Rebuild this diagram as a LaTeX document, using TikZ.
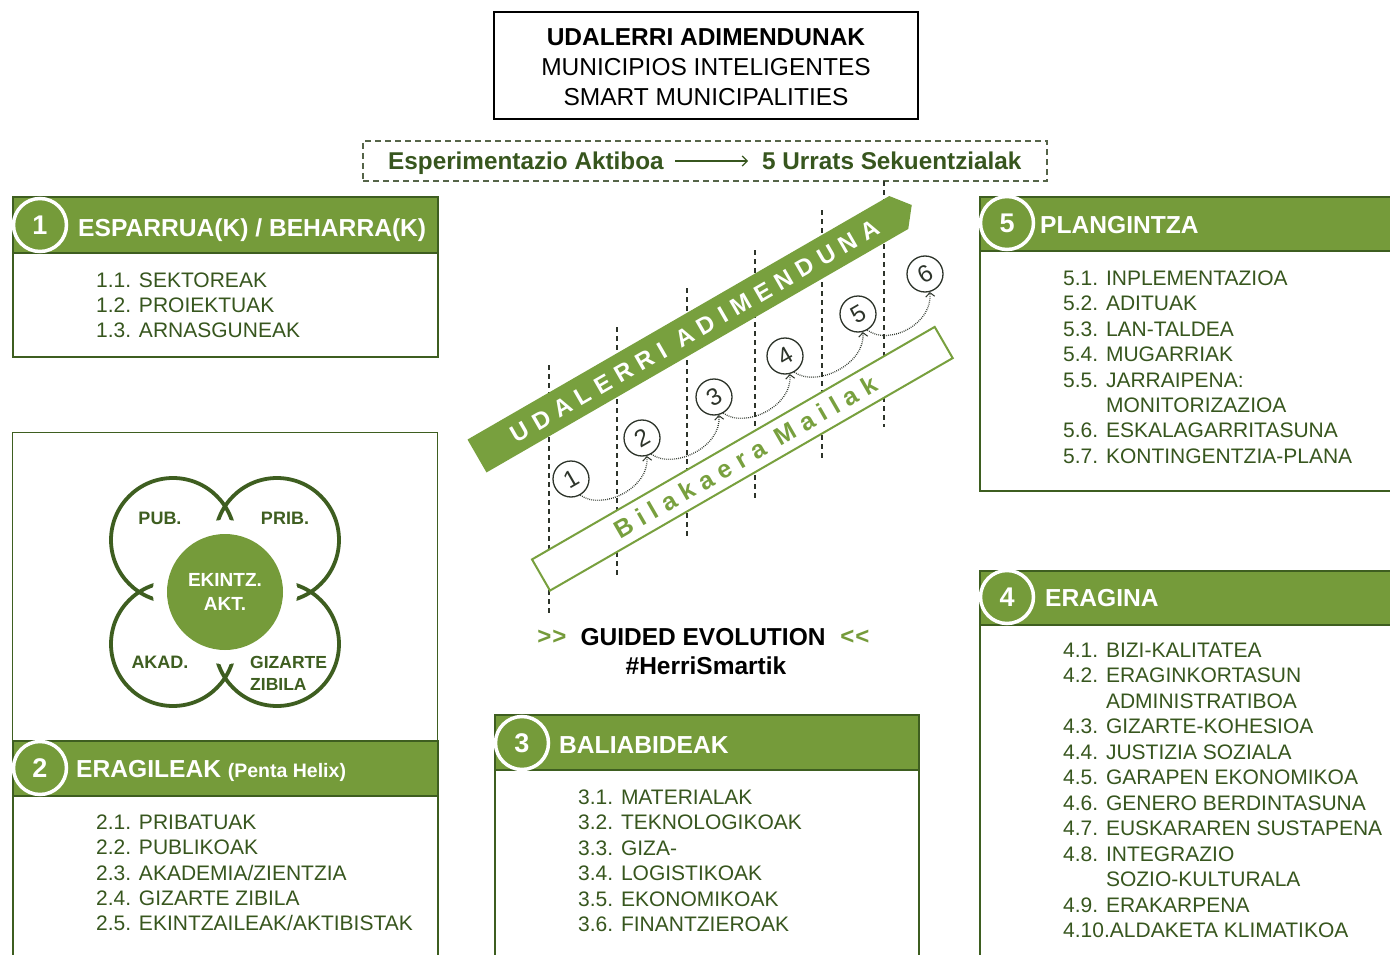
\documentclass[tikz,border=0pt]{standalone}
\usepackage{fontspec}
\setmainfont{Liberation Sans}
\usepackage{graphicx}
\usetikzlibrary{arrows.meta,backgrounds}
\definecolor{hgreen}{RGB}{117,155,58}
\definecolor{agreen}{RGB}{120,160,62}
\definecolor{bgreen}{RGB}{62,94,32}
\definecolor{tgreen}{RGB}{55,86,30}
\definecolor{dgray}{RGB}{45,52,42}
\definecolor{dashc}{RGB}{85,100,72}
\newcommand{\myfs}[1]{\fontsize{#1}{#1}\selectfont}
\begin{document}
\begin{tikzpicture}[x=1pt,y=-1pt,
 xbox/.style={draw=bgreen,line width=1.8pt,inner sep=0pt,anchor=north west},
 xhead/.style={fill=hgreen,draw=bgreen,line width=1.8pt,inner sep=0pt,anchor=north west},
 xbadge/.style={circle,fill=hgreen,draw=white,line width=3.5pt,minimum size=53pt,inner sep=0pt,text=white,font=\myfs{27}\bfseries},
 xtitle/.style={anchor=base west,inner sep=0pt,text=white,font=\myfs{24.6}\bfseries},
 xitem/.style={anchor=base west,inner sep=0pt,text=tgreen,font=\myfs{21}},
 dotc/.style={draw=dgray,line width=1.1pt,dash pattern=on 0.8pt off 1.2pt},
 barb/.style={-{Straight Barb[length=4pt,width=9pt,line width=1pt]}},
 hcirc/.style={circle,draw=bgreen,line width=3.8pt,minimum size=124pt,inner sep=0pt},
 hlab/.style={inner sep=0pt,text=bgreen,font=\myfs{18}\bfseries},
 ncirc/.style={circle,draw=dgray,line width=1.3pt,minimum size=36pt,inner sep=0pt,text=dgray,font=\myfs{24}},
 vdash/.style={draw=dgray,line width=1.2pt,dash pattern=on 5pt off 4pt},
]
\useasboundingbox (0,0) rectangle (1390,955);
\clip (0,0) rectangle (1390,955);
\fill[white] (0,0) rectangle (1390,955);

% top box
\node[draw=black,line width=1.6pt,minimum width=424pt,minimum height=107pt,inner sep=0pt] (top) at (706,65.5) {};
\node[anchor=base,inner sep=0pt,font=\myfs{24.5}\bfseries] (t1) at (706,45.8) {UDALERRI ADIMENDUNAK};
\node[anchor=base,inner sep=0pt,font=\myfs{24.5}] (t2) at (706,75.8) {MUNICIPIOS INTELIGENTES};
\node[anchor=base,inner sep=0pt,font=\myfs{24.5}] (t3) at (706,105.8) {SMART MUNICIPALITIES};

% dashed box
\node[draw=dashc,line width=1.4pt,dash pattern=on 6pt off 4pt,minimum width=684pt,minimum height=40pt,inner sep=0pt] (exp) at (705,161) {};
\node[anchor=base west,inner sep=0pt,text=tgreen,font=\myfs{24.3}\bfseries] (e1) at (388,169) {Esperimentazio Aktiboa};
\node[anchor=base west,inner sep=0pt,text=tgreen,font=\myfs{24.3}\bfseries] (e2) at (762,169) {5 Urrats Sekuentzialak};
\coordinate (ea) at (675,161);
\coordinate (eb) at (748,161);
\draw[tgreen,line width=1.2pt,-{Straight Barb[length=5pt,width=10pt]}] (ea) -- (eb);

% vertical dashed lines
\foreach \x/\ya/\yb in {549/365/615, 617/327/578, 687/288/538, 755/250/500, 822/210/460, 884/181/427}
  \draw[vdash] (\x,\ya) -- (\x,\yb);

% green band
\begin{scope}[shift={(477,456)},rotate=30]
\fill[agreen] (0,-19) -- (487,-19) -- (502,0) -- (487,19) -- (0,19) -- cycle;
\node[rotate=30,inner sep=0pt,text=white,font={\myfs{24}\bfseries\addfontfeature{LetterSpace=31}}] (band) at (251,1) {UDALERRI ADIMENDUNA};
\end{scope}

% Bilakaera box
\begin{scope}[shift={(541,575)},rotate=30]
\draw[agreen,line width=2pt,fill=white] (0,-18) rectangle (465,18);
\node[rotate=30,inner sep=0pt,text=agreen,font={\myfs{25}\bfseries\addfontfeature{LetterSpace=30}}] (bil) at (236,0) {Bilakaera Mailak};
\end{scope}

% numbered steps
\foreach \x/\y [count=\i] in {571/479,642/438,714/397,785/356,858/314,925/274}
  \node[ncirc] (c\i) at (\x,\y) {\rotatebox{30}{\i}};
\foreach \i/\j in {1/2,2/3,3/4,4/5,5/6}
  \draw[dotc,line width=1.3pt,barb] (c\i.-60) .. controls +(22,16) and +(3,32) .. (c\j.-75);

% guided evolution
\node[inner sep=0pt,text=hgreen,font=\myfs{24}\bfseries] (gl) at (552,637) {>\kern1pt>};
\node[anchor=base,inner sep=0pt,font=\myfs{24.5}\bfseries] (ge) at (703,645.8) {GUIDED EVOLUTION};
\node[inner sep=0pt,text=hgreen,font=\myfs{24}\bfseries] (gr) at (855,637) {<\kern1pt<};
\node[anchor=base,inner sep=0pt,font=\myfs{24.5}\bfseries] (gh) at (706,674.8) {\#HerriSmartik};

% boxes
\node[xbox,minimum width=425pt,minimum height=160pt] (box1) at (12,196) {};
\node[xbox,line width=1.4pt,minimum width=425pt,minimum height=308pt] (mid) at (12,432) {};
\node[xbox,minimum width=425pt,minimum height=260pt] (box2) at (12,740) {};
\node[xbox,minimum width=424pt,minimum height=260pt] (box3) at (494,714) {};
\node[xbox,minimum width=440pt,minimum height=420pt] (box4) at (979,570) {};
\node[xbox,minimum width=440pt,minimum height=294pt] (box5) at (979,196) {};
\node[xhead,minimum width=425pt,minimum height=56pt] (h1) at (12,196) {};
\node[xhead,minimum width=425pt,minimum height=55pt] (h2) at (12,740) {};
\node[xhead,minimum width=424pt,minimum height=55pt] (h3) at (494,714) {};
\node[xhead,minimum width=440pt,minimum height=54pt] (h4) at (979,570) {};
\node[xhead,minimum width=440pt,minimum height=54pt] (h5) at (979,196) {};

% titles
\node[xtitle] (tt1) at (78,236.6) {ESPARRUA(K) / BEHARRA(K)};
\node[xtitle] (tt2) at (76,777.6) {ERAGILEAK {\myfs{19.5}(Penta Helix)}};
\node[xtitle] (tt3) at (559,753.6) {BALIABIDEAK};
\node[xtitle] (tt4) at (1045,606.6) {ERAGINA};
\node[xtitle] (tt5) at (1040,233.6) {PLANGINTZA};

% items
\foreach \t [count=\i from 0] in {1.1. SEKTOREAK,1.2. PROIEKTUAK,1.3. ARNASGUNEAK}
  \node[xitem] (ia\i) at (96,287.5+25.2*\i) {\t};
\foreach \t [count=\i from 0] in {2.1. PRIBATUAK,2.2. PUBLIKOAK,2.3. AKADEMIA/ZIENTZIA,2.4. GIZARTE ZIBILA,2.5. EKINTZAILEAK/AKTIBISTAK}
  \node[xitem] (ib\i) at (96,829.5+25.3*\i) {\t};
\foreach \t [count=\i from 0] in {3.1. MATERIALAK,3.2. TEKNOLOGIKOAK,3.3. GIZA-,3.4. LOGISTIKOAK,3.5. EKONOMIKOAK,3.6. FINANTZIEROAK}
  \node[xitem] (ic\i) at (578,804.5+25.4*\i) {\t};
\foreach \t [count=\i from 0] in {4.1. BIZI-KALITATEA,4.2. ERAGINKORTASUN,{\phantom{4.2. }ADMINISTRATIBOA},4.3. GIZARTE-KOHESIOA,4.4. JUSTIZIA SOZIALA,4.5. GARAPEN EKONOMIKOA,4.6. GENERO BERDINTASUNA,4.7. EUSKARAREN SUSTAPENA,4.8. INTEGRAZIO,{\phantom{4.8. }SOZIO-KULTURALA},4.9. ERAKARPENA,4.10.ALDAKETA KLIMATIKOA}
  \node[xitem] (id\i) at (1063,657.5+25.45*\i) {\t};
\foreach \t [count=\i from 0] in {5.1. INPLEMENTAZIOA,5.2. ADITUAK,5.3. LAN-TALDEA,5.4. MUGARRIAK,5.5. JARRAIPENA:,{\phantom{5.5. }MONITORIZAZIOA},5.6. ESKALAGARRITASUNA,5.7. KONTINGENTZIA-PLANA}
  \node[xitem] (ie\i) at (1063,285.5+25.4*\i) {\t};

% penta helix
\node[hcirc] (hc1) at (173,540) {};
\node[hcirc] (hc2) at (277,540) {};
\node[hcirc] (hc3) at (173,644) {};
\node[hcirc] (hc4) at (277,644) {};
\node[circle,fill=white,minimum size=144pt,inner sep=0pt] (er) at (225,592) {};
\node[circle,fill=hgreen,minimum size=116pt,inner sep=0pt] (ek) at (225,592) {};
\node[align=center,inner sep=0pt,text=white,font=\fontsize{19}{24}\selectfont\bfseries] (ekt) at (225,592) {EKINTZ.\\AKT.};
\node[hlab] (lpub) at (160,518) {PUB.};
\node[hlab] (lprib) at (285,518) {PRIB.};
\node[hlab] (lakad) at (160,662) {AKAD.};
\node[hlab,anchor=west,align=left,font=\fontsize{17.5}{22}\selectfont\bfseries] (lgiz) at (250,673) {GIZARTE\\ZIBILA};

% badges
\node[xbadge] (bd1) at (40,225) {1};
\node[xbadge] (bd2) at (40,768) {2};
\node[xbadge] (bd3) at (522,743) {3};
\node[xbadge] (bd4) at (1007,597) {4};
\node[xbadge] (bd5) at (1007,223) {5};

% connectors
\begin{scope}[on background layer]
\draw[dotc,barb] (top.south) -- (top.south |- exp.north);
\draw[dotc,barb,shorten >=4pt] (exp.west) -| (bd1.north);
\draw[dotc,barb,shorten >=5pt] (bd1.south) -- (bd2.north);
\draw[dotc,barb,shorten <=3pt,shorten >=4pt] (h2.north east) -- (h2.north east -| bd3.west);
\draw[dotc,barb,shorten >=4pt] (h3.north east) |- (bd4.west);
\draw[dotc,barb,shorten >=10pt] (bd4.north) -- (bd5.south);
\end{scope}
\end{tikzpicture}
\end{document}
